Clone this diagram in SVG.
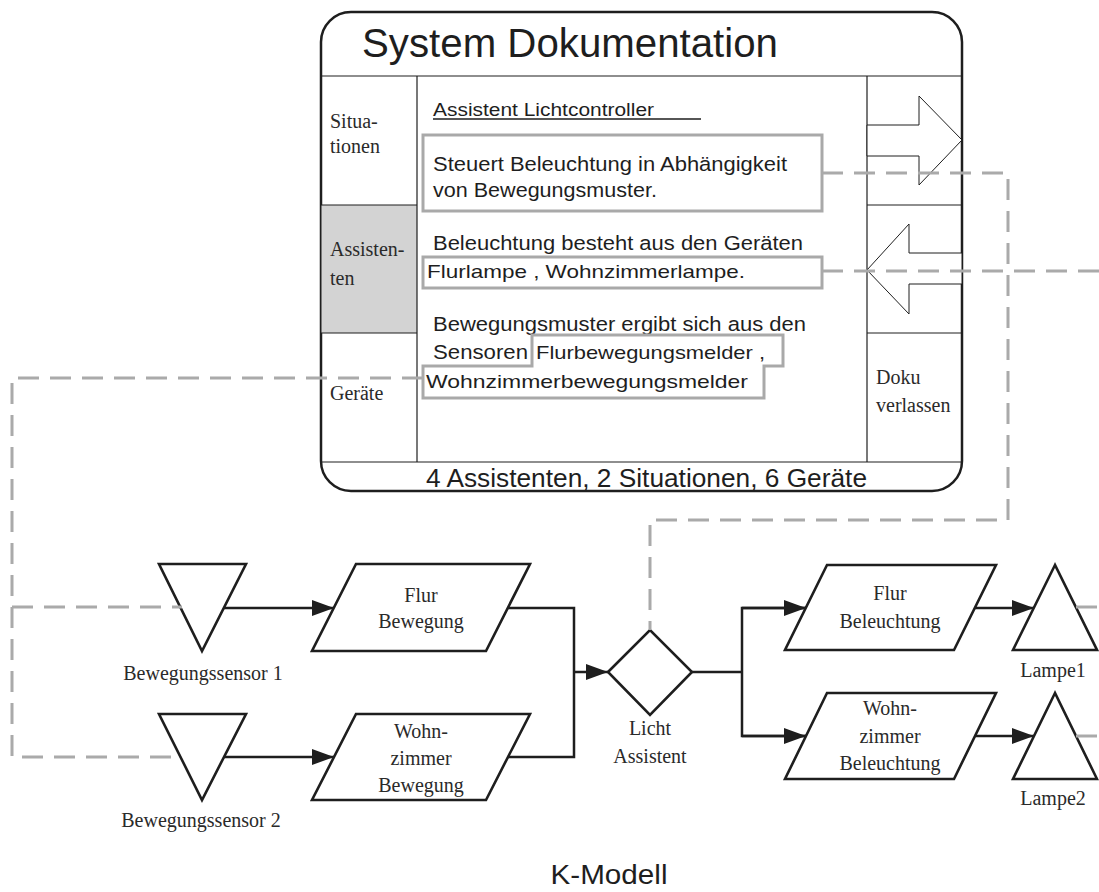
<svg xmlns="http://www.w3.org/2000/svg" width="1099" height="892" viewBox="0 0 1099 892">
  <style>
    .panel{fill:#fff;stroke:#1e1e1e;stroke-width:2.5}
    .grid{fill:none;stroke:#1e1e1e;stroke-width:1.2}
    .navarrow{fill:#fff;stroke:#1e1e1e;stroke-width:1}
    .field{fill:#fff;stroke:#a9a9a9;stroke-width:3}
    .shape{fill:#fff;stroke:#1e1e1e;stroke-width:2.6;stroke-linejoin:miter}
    .flow{fill:none;stroke:#1e1e1e;stroke-width:2.5}
    .link{fill:none;stroke:#aaaaaa;stroke-width:3;stroke-dasharray:21 11}
    .serif{font-family:"Liberation Serif","Times New Roman",serif;font-size:20px;fill:#2a2a2a}
    .label{font-family:"Liberation Serif","Times New Roman",serif;font-size:20px;fill:#2a2a2a;text-anchor:middle}
    .sans{font-family:"Liberation Sans",Arial,sans-serif;fill:#1e1e1e}
  </style>
  <defs>
    <marker id="arrow" markerUnits="userSpaceOnUse" markerWidth="22" markerHeight="16" refX="22" refY="8" orient="auto">
      <path d="M0,0 L22,8 L0,16 z" fill="#1e1e1e"/>
    </marker>
  </defs>

  <rect width="1099" height="892" fill="#fff"/>

  <!-- documentation window -->
  <g id="doku-panel">
    <rect class="panel" x="321" y="12" width="641" height="479" rx="30" ry="30"/>
    <rect x="321.5" y="205" width="95.5" height="128" fill="#d3d3d3"/>
    <line class="grid" x1="321" y1="76" x2="962" y2="76"/>
    <line class="grid" x1="321" y1="462" x2="962" y2="462"/>
    <line class="grid" x1="417" y1="76" x2="417" y2="462"/>
    <line class="grid" x1="867" y1="76" x2="867" y2="462"/>
    <line class="grid" x1="321" y1="205" x2="417" y2="205"/>
    <line class="grid" x1="321" y1="333" x2="417" y2="333"/>
    <line class="grid" x1="867" y1="205" x2="962" y2="205"/>
    <line class="grid" x1="867" y1="333" x2="962" y2="333"/>
    <text class="sans" x="362" y="57" font-size="40" textLength="416" lengthAdjust="spacingAndGlyphs">System Dokumentation</text>
    <text class="sans" x="426" y="487" font-size="25" textLength="441" lengthAdjust="spacingAndGlyphs">4 Assistenten, 2 Situationen, 6 Geräte</text>
  </g>

  <g id="nav-situationen">
    <text class="serif" x="330" y="128">Situa-</text>
    <text class="serif" x="330" y="153">tionen</text>
  </g>
  <g id="nav-assistenten">
    <text class="serif" x="330" y="256">Assisten-</text>
    <text class="serif" x="330" y="285">ten</text>
  </g>
  <g id="nav-geraete">
    <text class="serif" x="330" y="400">Geräte</text>
  </g>
  <g id="nav-vor">
    <polygon class="navarrow" points="867,125 919,125 919,96 962,140 919,185 919,156 867,156"/>
  </g>
  <g id="nav-zurueck">
    <polygon class="navarrow" points="962,253 909,253 909,224 867,270 909,314 909,284 962,284"/>
  </g>
  <g id="nav-verlassen">
    <text class="serif" x="876" y="384">Doku</text>
    <text class="serif" x="876" y="412">verlassen</text>
  </g>

  <g id="doku-titel">
    <text class="sans" x="433" y="116" font-size="18" textLength="221" lengthAdjust="spacingAndGlyphs">Assistent Lichtcontroller</text>
    <line x1="433" y1="119" x2="701" y2="119" stroke="#1e1e1e" stroke-width="1.5"/>
  </g>
  <g id="feld-beschreibung">
    <rect class="field" x="423" y="135" width="399" height="76"/>
    <text class="sans" x="433" y="171" font-size="20.5" textLength="354" lengthAdjust="spacingAndGlyphs">Steuert Beleuchtung in Abhängigkeit</text>
    <text class="sans" x="433" y="197" font-size="20.5" textLength="224" lengthAdjust="spacingAndGlyphs">von Bewegungsmuster.</text>
  </g>
  <g id="feld-geraete">
    <text class="sans" x="433" y="250" font-size="20.5" textLength="370" lengthAdjust="spacingAndGlyphs">Beleuchtung besteht aus den Geräten</text>
    <rect class="field" x="423" y="257" width="399" height="31"/>
    <text class="sans" x="427" y="278" font-size="19" textLength="318" lengthAdjust="spacingAndGlyphs">Flurlampe , Wohnzimmerlampe.</text>
  </g>
  <g id="feld-sensoren">
    <text class="sans" x="433" y="331" font-size="20.5" textLength="373" lengthAdjust="spacingAndGlyphs">Bewegungsmuster ergibt sich aus den</text>
    <polygon class="field" points="532,335 783,335 783,366 764,366 764,398 423,398 423,366 532,366"/>
    <text class="sans" x="433" y="359" font-size="20.5" textLength="95" lengthAdjust="spacingAndGlyphs">Sensoren</text>
    <text class="sans" x="536" y="359" font-size="19" textLength="229" lengthAdjust="spacingAndGlyphs">Flurbewegungsmelder ,</text>
    <text class="sans" x="426" y="388" font-size="19" textLength="322" lengthAdjust="spacingAndGlyphs">Wohnzimmerbewegungsmelder</text>
  </g>

  <!-- K-Modell nodes -->
  <g id="sensor1">
    <polygon class="shape" points="159,564 246,564 202,651"/>
    <text class="label" x="203" y="680">Bewegungssensor 1</text>
  </g>
  <g id="sensor2">
    <polygon class="shape" points="159,714 246,714 202,800"/>
    <text class="label" x="201" y="827">Bewegungssensor 2</text>
  </g>
  <g id="flur-bewegung">
    <polygon class="shape" points="356,564 530,564 486,651 312,651"/>
    <text class="label" x="421" y="602">Flur</text>
    <text class="label" x="421" y="628">Bewegung</text>
  </g>
  <g id="wohnzimmer-bewegung">
    <polygon class="shape" points="356,714 530,714 486,800 312,800"/>
    <text class="label" x="421" y="738">Wohn-</text>
    <text class="label" x="421" y="765">zimmer</text>
    <text class="label" x="421" y="792">Bewegung</text>
  </g>
  <g id="licht-assistent">
    <polygon class="shape" points="608,672 650,630 692,672 650,715"/>
    <text class="label" x="650" y="735">Licht</text>
    <text class="label" x="650" y="763">Assistent</text>
  </g>
  <g id="flur-beleuchtung">
    <polygon class="shape" points="827,565 996,565 954,650 785,650"/>
    <text class="label" x="890" y="600">Flur</text>
    <text class="label" x="890" y="628">Beleuchtung</text>
  </g>
  <g id="wohnzimmer-beleuchtung">
    <polygon class="shape" points="827,693 996,693 954,779 785,779"/>
    <text class="label" x="890" y="715">Wohn-</text>
    <text class="label" x="890" y="743">zimmer</text>
    <text class="label" x="890" y="770">Beleuchtung</text>
  </g>
  <g id="lampe1">
    <polygon class="shape" points="1055,565 1013,650 1097,650"/>
    <text class="label" x="1053" y="677">Lampe1</text>
  </g>
  <g id="lampe2">
    <polygon class="shape" points="1055,693 1013,779 1097,779"/>
    <text class="label" x="1053" y="805">Lampe2</text>
  </g>

  <text class="sans" x="609" y="884" font-size="27" text-anchor="middle" textLength="117" lengthAdjust="spacingAndGlyphs">K-Modell</text>

  <!-- connectors -->
  <g id="connectors">
    <g id="flow">
      <line class="flow" x1="224" y1="608" x2="334" y2="608" marker-end="url(#arrow)"/>
      <line class="flow" x1="224" y1="757" x2="334" y2="757" marker-end="url(#arrow)"/>
      <polyline class="flow" points="508,608 574,608 574,757 508,757"/>
      <line class="flow" x1="574" y1="672" x2="608" y2="672" marker-end="url(#arrow)"/>
      <line class="flow" x1="692" y1="672" x2="742" y2="672"/>
      <polyline class="flow" points="806,608 742,608 742,736 806,736"/>
      <line class="flow" x1="742" y1="608" x2="806" y2="608" marker-end="url(#arrow)"/>
      <line class="flow" x1="742" y1="736" x2="806" y2="736" marker-end="url(#arrow)"/>
      <line class="flow" x1="975" y1="608" x2="1034" y2="608" marker-end="url(#arrow)"/>
      <line class="flow" x1="975" y1="736" x2="1034" y2="736" marker-end="url(#arrow)"/>
    </g>
    <g id="links">
      <path class="link" d="M822,173 H1008 V520 H650 V630"/>
      <path class="link" d="M822,271 H1099"/>
      <path class="link" d="M423,378 H12 V757 H180"/>
      <path class="link" d="M12,607 H182"/>
      <path class="link" d="M1076,607 H1099"/>
      <path class="link" d="M1076,736 H1099"/>
    </g>
  </g>
</svg>
